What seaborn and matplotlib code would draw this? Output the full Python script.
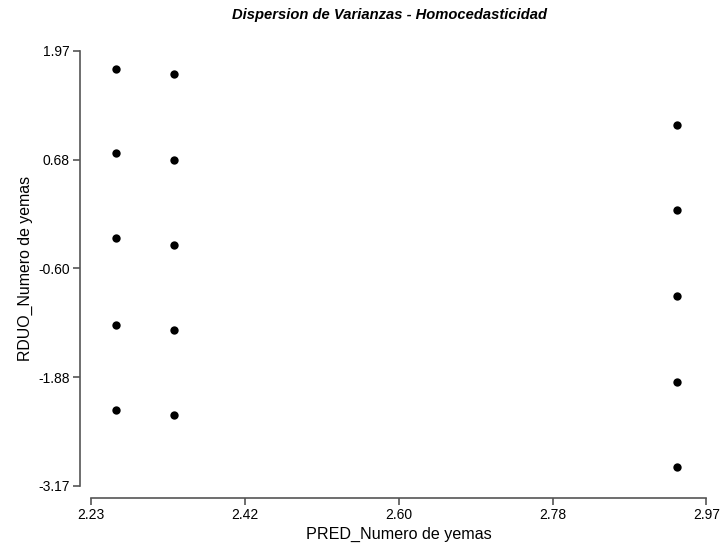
import matplotlib
matplotlib.use("Agg")
import matplotlib.pyplot as plt
import seaborn as sns
import pandas as pd
import numpy as np

# predicted values and residuals
pred = [2.26, 2.26, 2.26, 2.26, 2.26,
        2.33, 2.33, 2.33, 2.33, 2.33,
        2.935, 2.935, 2.935, 2.935, 2.935]
resid = [1.76, 0.76, -0.245, -1.27, -2.27,
         1.69, 0.68, -0.32, -1.325, -2.33,
         1.09, 0.09, -0.925, -1.945, -2.94]

x_ticks = [2.23, 2.415, 2.60, 2.785, 2.97]
x_labels = ["2.23", "2.42", "2.60", "2.78", "2.97"]
y_ticks = [-3.17, -1.885, -0.60, 0.685, 1.97]
y_labels = ["-3.17", "-1.88", "-0.60", "0.68", "1.97"]

df = pd.DataFrame({"PRED_Numero de yemas": pred, "RDUO_Numero de yemas": resid})

sns.set_theme(style="ticks")
plt.rcParams["font.family"] = ["Liberation Sans", "DejaVu Sans"]

fig = plt.figure(figsize=(7.21, 5.43), dpi=100)
ax = fig.add_axes([0.1258, 0.105, 0.854, 0.8015])

sns.scatterplot(data=df, x="PRED_Numero de yemas", y="RDUO_Numero de yemas",
                color="black", s=36, edgecolor="black", linewidth=0, ax=ax)

ax.set_xlim(2.23, 2.97)
ax.set_ylim(-3.17, 1.97)
ax.set_xticks(x_ticks)
ax.set_xticklabels(x_labels)
ax.set_yticks(y_ticks)
ax.set_yticklabels(y_labels)

for side in ["top", "right"]:
    ax.spines[side].set_visible(False)
ax.spines["left"].set_position(("outward", 8))
ax.spines["bottom"].set_position(("outward", 9))
for side in ["left", "bottom"]:
    ax.spines[side].set_color("#555555")
    ax.spines[side].set_linewidth(1.2)
ax.tick_params(axis="both", direction="out", length=5, width=1.2, color="#555555",
               labelsize=10, labelcolor="black", pad=2)

ax.set_xlabel("PRED_Numero de yemas", fontsize=11.6, color="black", labelpad=3)
ax.set_ylabel("RDUO_Numero de yemas", fontsize=11.4, color="black", labelpad=4)
ax.set_title("Dispersion de Varianzas - Homocedasticidad", fontsize=10.6, color="black",
             fontweight="bold", fontstyle="italic", pad=23, x=0.486)

fig.savefig("out.png", dpi=100)
